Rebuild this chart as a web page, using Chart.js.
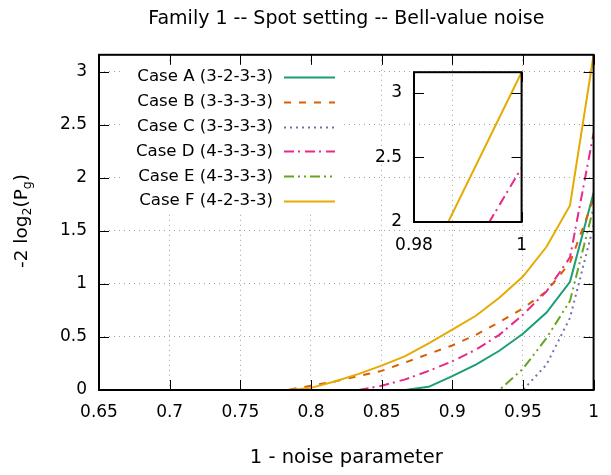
<!DOCTYPE html>
<html>
<head>
<meta charset="utf-8">
<script src="https://cdn.jsdelivr.net/npm/chart.js@4.4.1/dist/chart.umd.min.js"></script>
<style>
  html, body { margin: 0; padding: 0; background: #fff; }
  #wrap { position: relative; width: 611px; height: 475px; }
  #main { position: absolute; left: 0; top: 0; }
  #inset { position: absolute; left: 370px; top: 50px; }
</style>
</head>
<body>
<div id="wrap">
  <canvas id="main" width="611" height="475"></canvas>
  <canvas id="inset" width="170" height="210"></canvas>
</div>
<script>
// 1 - noise parameter
const xValues = [0.7, 0.7167, 0.7333, 0.75, 0.7667, 0.7833, 0.8, 0.8167, 0.8333, 0.85,
                 0.8667, 0.8833, 0.9, 0.9167, 0.9333, 0.95, 0.9667, 0.9833, 1];

// -2 log2(Pg) per case
const caseA = [0, 0, 0, 0, 0, 0, 0, 0, 0, 0, 0, 0.03, 0.13, 0.24, 0.37, 0.53, 0.73, 1.02, 1.86];
const caseB = [0, 0, 0, 0, 0, 0, 0.04, 0.08, 0.13, 0.18, 0.26, 0.34, 0.42, 0.52, 0.64, 0.77, 0.93, 1.2, 1.8];
const caseC = [0, 0, 0, 0, 0, 0, 0, 0, 0, 0, 0, 0, 0, 0, 0, 0, 0.24, 0.68, 1.55];
const caseD = [0, 0, 0, 0, 0, 0, 0, 0, 0, 0.04, 0.1, 0.18, 0.27, 0.38, 0.52, 0.71, 0.93, 1.25, 2.42];
const caseE = [0, 0, 0, 0, 0, 0, 0, 0, 0, 0, 0, 0, 0, 0, 0, 0.2, 0.49, 0.84, 1.72];
const caseF = [0, 0, 0, 0, 0, 0, 0.02, 0.08, 0.15, 0.23, 0.32, 0.44, 0.57, 0.7, 0.87, 1.07, 1.35, 1.74, 3.16];

const caseNames = ["Case A (3-2-3-3)", "Case B (3-3-3-3)", "Case C (3-3-3-3)",
                   "Case D (4-3-3-3)", "Case E (4-3-3-3)", "Case F (4-2-3-3)"];

const xTicksMain = [0.65, 1, 0.05];   // min, max, step
const yTicksMain = [0, 3.16, 0.5];
const xTicksInset = [0.98, 1, 0.02];
const yTicksInset = [2, 3.16, 0.5];

const colors = ["#1b9e77", "#d95f02", "#7570b3", "#e7298a", "#66a61e", "#e6ab02"];
const dashes = [[], [7, 8], [2, 4], [10, 4, 2, 5], [10, 4, 2, 4, 2, 4], []];

const FONT = "'DejaVu Sans', sans-serif";
Chart.defaults.font.family = FONT;
Chart.defaults.font.size = 17;
Chart.defaults.color = "#000";

// gnuplot style labels: 0.7, 1, 2.5 ...
function plainLabel(v) { return String(Number(v.toFixed(3))); }

function makeDatasets() {
  return [caseA, caseB, caseC, caseD, caseE, caseF].map(function (vals, i) {
    return {
      label: caseNames[i],
      data: xValues.map(function (x, j) { return { x: x, y: vals[j] }; }),
      borderColor: colors[i],
      borderDash: dashes[i],
      borderWidth: 2,
      pointRadius: 0,
      tension: 0,
      fill: false,
      order: 5 - i   // last case on top, like gnuplot
    };
  });
}

// inward ticks + frame
function drawFrame(chart, len) {
  const ctx = chart.ctx;
  const a = chart.chartArea;
  const xs = chart.scales.x, ys = chart.scales.y;
  ctx.save();
  ctx.strokeStyle = "#000";
  ctx.lineWidth = 1;
  ctx.setLineDash([]);
  ctx.beginPath();
  xs.ticks.forEach(function (t) {
    const px = Math.round(xs.getPixelForValue(t.value)) + 0.5;
    ctx.moveTo(px, a.bottom); ctx.lineTo(px, a.bottom - len);
    ctx.moveTo(px, a.top); ctx.lineTo(px, a.top + len);
  });
  ys.ticks.forEach(function (t) {
    const py = Math.round(ys.getPixelForValue(t.value)) + 0.5;
    ctx.moveTo(a.left, py); ctx.lineTo(a.left + len, py);
    ctx.moveTo(a.right, py); ctx.lineTo(a.right - len, py);
  });
  ctx.stroke();
  ctx.lineWidth = 2;
  ctx.strokeRect(a.left, a.top, a.right - a.left, a.bottom - a.top);
  ctx.restore();
}

const mainPlugin = {
  id: "mainDecor",
  beforeDatasetsDraw: function (chart) {
    // opaque key
    const ctx = chart.ctx;
    ctx.save();
    ctx.fillStyle = "#fff";
    ctx.fillRect(124, 62, 218, 152);
    ctx.font = "16.6px " + FONT;
    ctx.textAlign = "right";
    ctx.textBaseline = "middle";
    chart.data.datasets.forEach(function (ds, i) {
      const y = 77 + i * 24.8;
      ctx.fillStyle = "#000";
      ctx.fillText(ds.label, 273, y);
      ctx.strokeStyle = ds.borderColor;
      ctx.lineWidth = 2;
      ctx.setLineDash(ds.borderDash);
      ctx.beginPath();
      ctx.moveTo(284, Math.round(y) + 0.5);
      ctx.lineTo(335, Math.round(y) + 0.5);
      ctx.stroke();
    });
    ctx.restore();
  },
  afterDraw: function (chart) {
    drawFrame(chart, 10);
    // y axis title with subscripts
    const ctx = chart.ctx;
    const parts = [["-2 log", false], ["2", true], ["(P", false], ["g", true], [")", false]];
    const big = "18.5px " + FONT;
    const small = "12.5px " + FONT;
    ctx.save();
    let total = 0;
    parts.forEach(function (p) { ctx.font = p[1] ? small : big; total += ctx.measureText(p[0]).width; });
    ctx.translate(22, 221);
    ctx.rotate(-Math.PI / 2);
    ctx.fillStyle = "#000";
    ctx.textBaseline = "middle";
    ctx.textAlign = "left";
    let x = -total / 2;
    parts.forEach(function (p) {
      ctx.font = p[1] ? small : big;
      ctx.fillText(p[0], x, p[1] ? 6 : 0);
      x += ctx.measureText(p[0]).width;
    });
    ctx.restore();
  }
};

new Chart(document.getElementById("main"), {
  type: "line",
  data: { datasets: makeDatasets() },
  options: {
    responsive: false,
    animation: false,
    devicePixelRatio: 1,
    layout: { padding: { left: 0, right: 8, top: 0, bottom: 0 } },
    plugins: {
      legend: { display: false },
      tooltip: { enabled: false },
      title: {
        display: true,
        fullSize: false,
        text: "Family 1 -- Spot setting -- Bell-value noise",
        font: { size: 19, weight: "normal" },
        padding: { top: 8, bottom: 24 }
      }
    },
    scales: {
      x: {
        type: "linear",
        min: xTicksMain[0], max: xTicksMain[1],
        ticks: { stepSize: xTicksMain[2], includeBounds: false, padding: 12, maxRotation: 0, callback: plainLabel },
        grid: { color: "#a0a0a0", lineWidth: 1, drawTicks: false },
        border: { display: false, dash: [1, 4] },
        title: { display: true, text: "1 - noise parameter", font: { size: 19.5 }, padding: { top: 0, bottom: 5 } },
        afterFit: function (s) { s.height = 85; }
      },
      y: {
        min: yTicksMain[0], max: yTicksMain[1],
        ticks: { stepSize: yTicksMain[2], includeBounds: false, padding: 12, callback: plainLabel },
        grid: { color: "#a0a0a0", lineWidth: 1, drawTicks: false },
        border: { display: false, dash: [1, 4] },
        afterFit: function (s) { s.width = 99; }
      }
    }
  },
  plugins: [mainPlugin]
});

// inset: zoom on the top right corner
new Chart(document.getElementById("inset"), {
  type: "line",
  data: { datasets: makeDatasets() },
  options: {
    responsive: false,
    animation: false,
    devicePixelRatio: 1,
    layout: { padding: { left: 0, right: 8, top: 12, bottom: 0 } },
    plugins: { legend: { display: false }, tooltip: { enabled: false }, title: { display: false } },
    scales: {
      x: {
        type: "linear",
        min: xTicksInset[0], max: xTicksInset[1],
        ticks: { stepSize: xTicksInset[2], includeBounds: false, padding: 13, maxRotation: 0, callback: plainLabel },
        grid: { display: false, drawTicks: false },
        border: { display: false },
        afterFit: function (s) { s.height = 38; }
      },
      y: {
        min: yTicksInset[0], max: yTicksInset[1],
        ticks: { stepSize: yTicksInset[2], includeBounds: false, padding: 12, callback: plainLabel },
        grid: { display: false, drawTicks: false },
        border: { display: false },
        afterFit: function (s) { s.width = 44; }
      }
    }
  },
  plugins: [{ id: "insetFrame", afterDraw: function (chart) { drawFrame(chart, 10); } }]
});
</script>
</body>
</html>
